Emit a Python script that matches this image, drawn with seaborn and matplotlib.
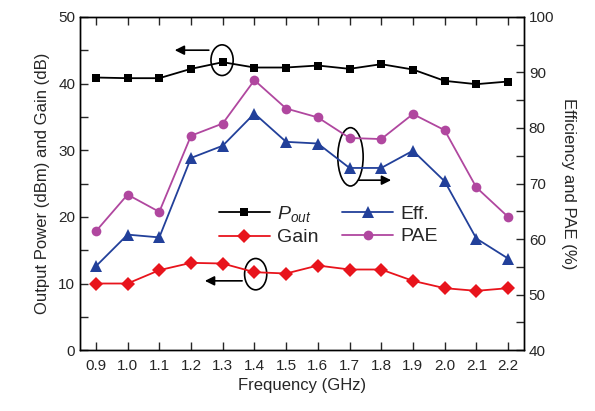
import matplotlib
matplotlib.use("Agg")
import matplotlib.pyplot as plt
from matplotlib.patches import Ellipse
from matplotlib.ticker import MultipleLocator
import seaborn as sns
import pandas as pd

freq = [0.9, 1.0, 1.1, 1.2, 1.3, 1.4, 1.5, 1.6, 1.7, 1.8, 1.9, 2.0, 2.1, 2.2]
pout = [40.9, 40.8, 40.8, 42.2, 43.2, 42.4, 42.4, 42.7, 42.2, 42.9, 42.1, 40.4, 39.9, 40.3]
gain = [10.0, 10.0, 12.0, 13.1, 13.0, 11.7, 11.5, 12.7, 12.1, 12.1, 10.4, 9.3, 8.9, 9.3]
eff = [55.1, 60.8, 60.3, 74.6, 76.8, 82.6, 77.5, 77.2, 72.8, 72.8, 75.9, 70.4, 60.1, 56.5]
pae = [61.4, 68.0, 64.9, 78.6, 80.8, 88.6, 83.5, 81.9, 78.2, 78.0, 82.5, 79.6, 69.3, 64.0]
xticks = ["0.9", "1.0", "1.1", "1.2", "1.3", "1.4", "1.5", "1.6", "1.7", "1.8", "1.9", "2.0", "2.1", "2.2"]

sns.set_style("ticks")
plt.rcParams['font.family'] = ['Liberation Sans', 'DejaVu Sans']
plt.rcParams['mathtext.fontset'] = 'custom'
plt.rcParams['mathtext.it'] = 'Liberation Sans:italic'
plt.rcParams['mathtext.rm'] = 'Liberation Sans'

df = pd.DataFrame({"freq": freq, "pout": pout, "gain": gain, "eff": eff, "pae": pae})

fig = plt.figure(figsize=(5.95, 4.11), dpi=100)
ax = fig.add_axes([0.1345, 0.148, 0.746, 0.811])
ax2 = ax.twinx()

c_black = "#000000"
c_red = "#e8141c"
c_blue = "#22409a"
c_mag = "#b0479f"

sns.lineplot(data=df, x="freq", y="pout", ax=ax, color=c_black, marker="s", markersize=6,
             markeredgewidth=0, linewidth=1.3, label=r"$P_{out}$", legend=False)
sns.lineplot(data=df, x="freq", y="gain", ax=ax, color=c_red, marker="D", markersize=7,
             markeredgewidth=0, linewidth=1.3, label="Gain", legend=False)
sns.lineplot(data=df, x="freq", y="eff", ax=ax2, color=c_blue, marker="^", markersize=8,
             markeredgewidth=0, linewidth=1.3, label="Eff.", legend=False)
sns.lineplot(data=df, x="freq", y="pae", ax=ax2, color=c_mag, marker="o", markersize=7,
             markeredgewidth=0, linewidth=1.3, label="PAE", legend=False)

ax.set_xlim(0.85, 2.25)
ax.set_ylim(0, 50)
ax2.set_ylim(40, 100)
ax.set_xticks(freq)
ax.set_xticklabels(xticks)
ax.yaxis.set_major_locator(MultipleLocator(10))
ax.yaxis.set_minor_locator(MultipleLocator(5))
ax2.yaxis.set_major_locator(MultipleLocator(10))
ax2.yaxis.set_minor_locator(MultipleLocator(5))

for a in (ax, ax2):
    for s in a.spines.values():
        s.set_visible(True)
        s.set_linewidth(1.0)
        s.set_color("black")
ax.tick_params(axis="x", direction="in", top=True, length=6, width=1, labelsize=11, pad=6)
ax.tick_params(axis="y", direction="in", which="major", length=6, width=1, labelsize=11)
ax.tick_params(axis="y", direction="in", which="minor", length=6, width=1)
ax2.tick_params(axis="y", direction="in", which="major", length=6, width=1, labelsize=11)
ax2.tick_params(axis="y", direction="in", which="minor", length=6, width=1)

ax.set_xlabel("Frequency (GHz)", fontsize=12, labelpad=4)
ax.set_ylabel("Output Power (dBm) and Gain (dB)", fontsize=12, labelpad=6)
ax2.set_ylabel("Efficiency and PAE (%)", fontsize=12, rotation=270, labelpad=16)

# annotations: ellipses + arrows
ax.add_patch(Ellipse((1.298, 43.5), 0.07, 4.6, fill=False, edgecolor="black", linewidth=1.2))
ax.annotate("", xy=(1.14, 45.0), xytext=(1.265, 45.0),
            arrowprops=dict(arrowstyle="-|>", color="black", lw=1.2, mutation_scale=14))
ax.add_patch(Ellipse((1.404, 11.4), 0.07, 4.7, fill=False, edgecolor="black", linewidth=1.2))
ax.annotate("", xy=(1.235, 10.4), xytext=(1.37, 10.4),
            arrowprops=dict(arrowstyle="-|>", color="black", lw=1.2, mutation_scale=14))
ax2.add_patch(Ellipse((1.703, 74.8), 0.08, 10.5, fill=False, edgecolor="black", linewidth=1.2))
ax2.annotate("", xy=(1.84, 70.6), xytext=(1.72, 70.6),
             arrowprops=dict(arrowstyle="-|>", color="black", lw=1.2, mutation_scale=14))

h1, l1 = ax.get_legend_handles_labels()
h2, l2 = ax2.get_legend_handles_labels()
leg = ax.legend(h1 + h2, l1 + l2, ncol=2, loc="center", bbox_to_anchor=(0.56, 0.375),
                frameon=False, fontsize=14, handlelength=2.6, columnspacing=1.2,
                handletextpad=0.4, labelspacing=0.25)

fig.savefig("out.png", dpi=100)
